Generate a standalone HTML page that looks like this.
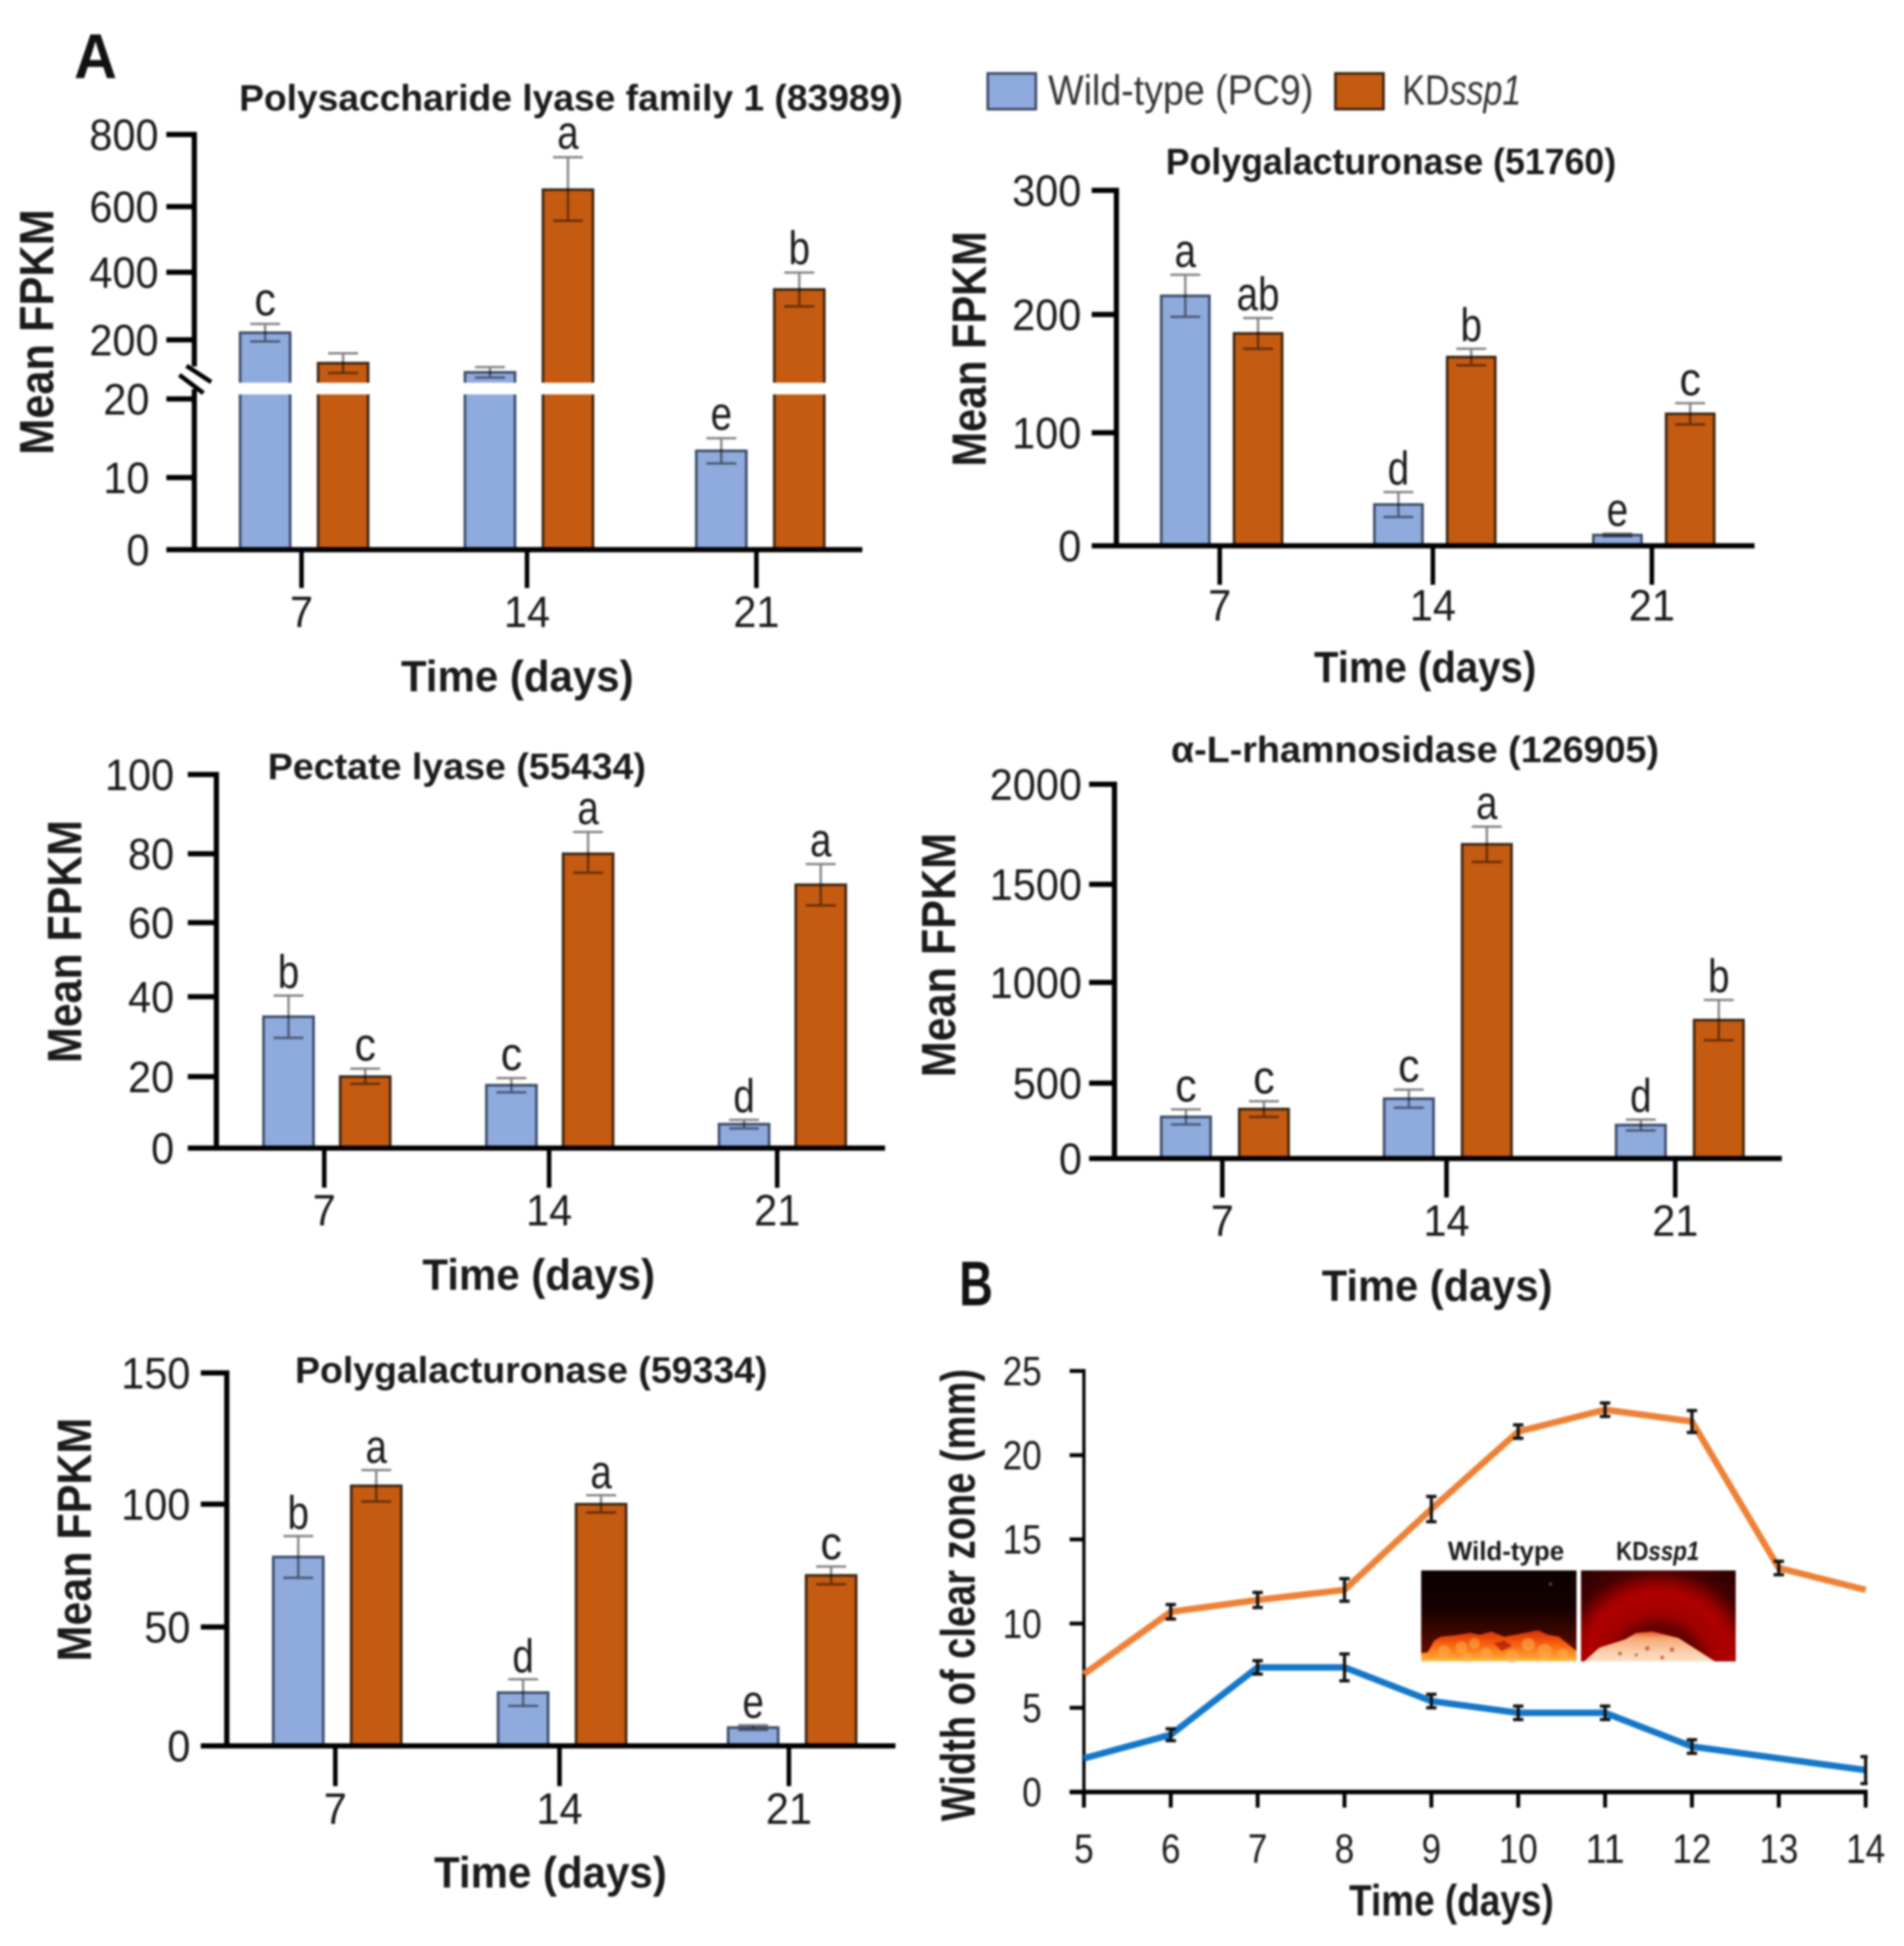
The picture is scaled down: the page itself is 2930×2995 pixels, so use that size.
<!DOCTYPE html>
<html lang="en">
<head>
<meta charset="utf-8">
<title>Mean FPKM of pectinolytic genes and clear zone width</title>
<style>
html,body{margin:0;padding:0;background:#fff;width:2930px;height:2995px;overflow:hidden}
svg{display:block;filter:blur(1.6px)}
text{font-family:"Liberation Sans","DejaVu Sans",sans-serif;fill:#1a1a1a}
.title{font-size:57px;font-weight:700}
.axis-title{font-size:68px;font-weight:700}
.y-title{font-size:74px;font-weight:700}
.panel-letter{font-size:97px;font-weight:700;fill:#111}
.legend{font-size:65px;fill:#333}
.tick{font-size:68px}
.letter{font-size:72px}
.inset{font-size:41px;font-weight:700}
</style>
</head>
<body>
<svg id="fig" xmlns="http://www.w3.org/2000/svg" width="2930" height="2995" viewBox="0 0 2930 2995">
  <defs>
    <linearGradient id="wtBg" x1="0" y1="0" x2="0" y2="1">
      <stop offset="0" stop-color="#0c0000"/><stop offset=".4" stop-color="#140000"/><stop offset=".65" stop-color="#380600"/><stop offset="1" stop-color="#7a1000"/>
    </linearGradient>
    <linearGradient id="wtColony" x1="0" y1="0" x2="0" y2="1">
      <stop offset="0" stop-color="#d0300a"/><stop offset=".35" stop-color="#f4540c"/><stop offset=".8" stop-color="#ff9426"/><stop offset="1" stop-color="#ffc050"/>
    </linearGradient>
    <radialGradient id="kdBg" gradientUnits="userSpaceOnUse" cx="119" cy="150" r="190">
      <stop offset="0" stop-color="#800000"/><stop offset=".33" stop-color="#640000"/><stop offset=".44" stop-color="#a00000"/><stop offset=".6" stop-color="#b00000"/><stop offset=".67" stop-color="#980000"/><stop offset=".8" stop-color="#440000"/><stop offset="1" stop-color="#2a0000"/>
    </radialGradient>
    <linearGradient id="kdColony" x1="0" y1="0" x2="0" y2="1">
      <stop offset="0" stop-color="#e8501e"/><stop offset=".22" stop-color="#f6a878"/><stop offset=".7" stop-color="#fbd0ac"/><stop offset="1" stop-color="#fde0c4"/>
    </linearGradient>
    <clipPath id="lineClip"><rect x="1660" y="2100" width="1214" height="680"/></clipPath>
  </defs>

  <text class="panel-letter" x="114" y="120" textLength="66" lengthAdjust="spacingAndGlyphs">A</text>
  <text class="panel-letter" x="1476" y="2009" textLength="52" lengthAdjust="spacingAndGlyphs">B</text>

  <g>
    <rect x="1520" y="113" width="74" height="55" fill="#8faadc" stroke="#3b4a66" stroke-width="4"/>
    <text class="legend" x="1613" y="161" textLength="408" lengthAdjust="spacingAndGlyphs">Wild-type (PC9)</text>
    <rect x="2055" y="113" width="74" height="55" fill="#c55a11" stroke="#3a2410" stroke-width="4"/>
    <text class="legend" x="2158" y="161" textLength="183" lengthAdjust="spacingAndGlyphs">KD<tspan font-style="italic">ssp1</tspan></text>
  </g>

  <text class="title" x="368" y="170" textLength="1021" lengthAdjust="spacingAndGlyphs">Polysaccharide lyase family 1 (83989)</text>
  <text class="title" x="1794" y="268" textLength="693" lengthAdjust="spacingAndGlyphs">Polygalacturonase (51760)</text>
  <text class="title" x="412" y="1199" textLength="582" lengthAdjust="spacingAndGlyphs">Pectate lyase (55434)</text>
  <text class="title" x="1802" y="1173" textLength="751" lengthAdjust="spacingAndGlyphs">α-L-rhamnosidase (126905)</text>
  <text class="title" x="454" y="2128" textLength="727" lengthAdjust="spacingAndGlyphs">Polygalacturonase (59334)</text>

  <text class="y-title" transform="translate(82,700) rotate(-90)" textLength="378" lengthAdjust="spacingAndGlyphs">Mean FPKM</text>
  <text class="y-title" transform="translate(1517,718) rotate(-90)" textLength="362" lengthAdjust="spacingAndGlyphs">Mean FPKM</text>
  <text class="y-title" transform="translate(125,1636) rotate(-90)" textLength="374" lengthAdjust="spacingAndGlyphs">Mean FPKM</text>
  <text class="y-title" transform="translate(1470,1658) rotate(-90)" textLength="376" lengthAdjust="spacingAndGlyphs">Mean FPKM</text>
  <text class="y-title" transform="translate(140,2557) rotate(-90)" textLength="375" lengthAdjust="spacingAndGlyphs">Mean FPKM</text>
  <text class="y-title" transform="translate(1500,2803) rotate(-90)" textLength="696" lengthAdjust="spacingAndGlyphs">Width of clear zone (mm)</text>

  <text class="axis-title" x="617" y="1064" textLength="358" lengthAdjust="spacingAndGlyphs">Time (days)</text>
  <text class="axis-title" x="2022" y="1050" textLength="342" lengthAdjust="spacingAndGlyphs">Time (days)</text>
  <text class="axis-title" x="650" y="1985" textLength="358" lengthAdjust="spacingAndGlyphs">Time (days)</text>
  <text class="axis-title" x="2034" y="2002" textLength="355" lengthAdjust="spacingAndGlyphs">Time (days)</text>
  <text class="axis-title" x="668" y="2905" textLength="358" lengthAdjust="spacingAndGlyphs">Time (days)</text>
  <text class="axis-title" x="2076" y="2948" textLength="315" lengthAdjust="spacingAndGlyphs">Time (days)</text>

  <g id="plots"></g>

  <g>
    <text class="inset" x="2228" y="2401" textLength="179" lengthAdjust="spacingAndGlyphs">Wild-type</text>
    <text class="inset" x="2487" y="2401" textLength="128" lengthAdjust="spacingAndGlyphs">KD<tspan font-style="italic">ssp1</tspan></text>
    <g transform="translate(2187,2417)">
      <rect width="239" height="140" fill="url(#wtBg)"/>
      <polygon points="0,127 10,126 20,108 30,102 50,100 76,96 90,99 108,94 128,102 150,98 180,92 195,99 212,102 228,115 239,124 239,140 0,140" fill="url(#wtColony)"/>
      <g fill="#ffb050" opacity=".55">
        <circle cx="35" cy="124" r="9"/><circle cx="62" cy="118" r="9"/><circle cx="82" cy="112" r="8"/><circle cx="100" cy="128" r="9"/><circle cx="165" cy="114" r="10"/><circle cx="190" cy="124" r="11"/><circle cx="140" cy="132" r="10"/><circle cx="218" cy="128" r="8"/><circle cx="70" cy="134" r="7"/>
      </g>
      <polygon points="112,112 128,108 140,116 124,124" fill="#b32000" opacity=".8"/>
      <circle cx="199" cy="21" r="2.5" fill="#555"/>
    </g>
    <g transform="translate(2433,2417)">
      <rect width="238" height="140" fill="url(#kdBg)"/>
      <polygon points="5,140 28,119 68,106 85,96 110,94 150,104 178,122 206,140" fill="url(#kdColony)"/>
      <g fill="#b4502c" opacity=".75">
        <circle cx="102" cy="120" r="3.5"/><circle cx="140" cy="122" r="3.5"/><circle cx="125" cy="134" r="3"/><circle cx="60" cy="128" r="3"/><circle cx="85" cy="130" r="2.5"/>
      </g>
    </g>
  </g>
</svg>

<script>
const NS = 'http://www.w3.org/2000/svg';

// ----- shared category values -----
const days = [7, 14, 21];
const lineDays = [5, 6, 7, 8, 9, 10, 11, 12, 13, 14];

// ----- Polysaccharide lyase family 1 (83989) -----
const lyase1Ticks = [0, 10, 20, 200, 400, 600, 800];
const lyase1Wild = [221, 101, 13.4];
const lyase1Kd = [129, 647, 349];
const lyase1WildErr = [26, 16, 1.6];
const lyase1KdErr = [30, 90, 50];
const lyase1WildLetters = ['c', '', 'e'];
const lyase1KdLetters = ['', 'a', 'b'];

// ----- Polygalacturonase (51760) -----
const pg51760Ticks = [0, 100, 200, 300];
const pg51760Wild = [215, 36.5, 9.5];
const pg51760Kd = [184, 164, 116];
const pg51760WildErr = [17, 11, 1.2];
const pg51760KdErr = [13, 7, 9];
const pg51760WildLetters = ['a', 'd', 'e'];
const pg51760KdLetters = ['ab', 'b', 'c'];

// ----- Pectate lyase (55434) -----
const pectateTicks = [0, 20, 40, 60, 80, 100];
const pectateWild = [35, 17.6, 6.7];
const pectateKd = [20, 80, 71];
const pectateWildErr = [5.3, 2, 1.2];
const pectateKdErr = [2, 5.5, 6];
const pectateWildLetters = ['b', 'c', 'd'];
const pectateKdLetters = ['c', 'a', 'a'];

// ----- alpha-L-rhamnosidase (126905) -----
const rhamTicks = [0, 500, 1000, 1500, 2000];
const rhamWild = [276, 397, 222];
const rhamKd = [328, 1700, 813];
const rhamWildErr = [50, 60, 36];
const rhamKdErr = [52, 88, 100];
const rhamWildLetters = ['c', 'c', 'd'];
const rhamKdLetters = ['c', 'a', 'b'];

// ----- Polygalacturonase (59334) -----
const pg59334Ticks = [0, 50, 100, 150];
const pg59334Wild = [78.5, 22.4, 7.7];
const pg59334Kd = [107, 100, 71];
const pg59334WildErr = [8.5, 5.6, 1];
const pg59334KdErr = [6, 3.4, 3.6];
const pg59334WildLetters = ['b', 'd', 'e'];
const pg59334KdLetters = ['a', 'a', 'c'];

// ----- Width of clear zone -----
const zoneTicks = [0, 5, 10, 15, 20, 25];
const zoneWild = [2, 3.4, 7.4, 7.4, 5.4, 4.7, 4.7, 2.7, 2, 1.3];
const zoneKd = [7, 10.7, 11.4, 12, 16.8, 21.4, 22.7, 22, 13.3, 12];
const zoneWildErr = [0, 0.35, 0.4, 0.8, 0.4, 0.4, 0.4, 0.4, 0, 0.8];
const zoneKdErr = [0, 0.43, 0.45, 0.67, 0.75, 0.4, 0.4, 0.65, 0.4, 0];

const WILD_FILL = '#8faadc', WILD_EDGE = '#3b4a66';
const KD_FILL = '#c55a11', KD_EDGE = '#3a2410';

function svgEl(tag, attrs) {
  const el = document.createElementNS(NS, tag);
  for (const k in attrs) el.setAttribute(k, attrs[k]);
  return el;
}
// piecewise-linear axis function
function scale(domain, range) {
  return function (v) {
    let i = 0;
    while (i < domain.length - 2 && v > domain[i + 1]) i++;
    const t = (v - domain[i]) / (domain[i + 1] - domain[i]);
    return range[i] + t * (range[i + 1] - range[i]);
  };
}

const plots = document.getElementById('plots');

function drawBarPanel(p) {
  const g = svgEl('g', {});
  
  
  plots.appendChild(g);
  const y = scale(p.ticks, p.tickPixels);
  const groupX = scale(days, p.groupPixels);
  const tickX = scale(days, p.xTickPixels);
  const y0 = y(0);

  [['wild', p.wild, p.wildErr, p.wildLetters, -1, WILD_FILL, WILD_EDGE],
   ['kd', p.kd, p.kdErr, p.kdLetters, 1, KD_FILL, KD_EDGE]].forEach(function (s) {
    days.forEach(function (d, i) {
      const v = s[1][i], e = s[2][i];
      const cx = groupX(d) + s[4] * p.offset;
      const top = y(v);
      const bar = svgEl('rect', { x: cx - p.barW / 2, y: top, width: p.barW, height: y0 - top, fill: s[5], stroke: s[6], 'stroke-width': 4 });
      
      
      g.appendChild(bar);
      if (p.breakBand && top < p.breakBand[0]) {
        const gap = svgEl('rect', { x: cx - p.barW / 2 - 4, y: p.breakBand[0], width: p.barW + 8, height: p.breakBand[1] - p.breakBand[0], fill: '#fff' });
        
        
        g.appendChild(gap);
      }
      const hi = y(v + e), lo = y(v - e);
      const err = svgEl('path', {
        d: 'M' + cx + ' ' + hi + 'V' + lo + 'M' + (cx - 23) + ' ' + hi + 'H' + (cx + 23) + 'M' + (cx - 23) + ' ' + lo + 'H' + (cx + 23),
        fill: 'none', stroke: '#000', 'stroke-opacity': 0.5, 'stroke-width': 3.5
      });
      
      
      g.appendChild(err);
      if (s[3][i]) {
        const lab = svgEl('text', { x: cx, y: hi - p.letterGap, 'text-anchor': 'middle', class: 'letter', textLength: 33 * s[3][i].length, lengthAdjust: 'spacingAndGlyphs' });
        lab.textContent = s[3][i];
        
        
        g.appendChild(lab);
      }
    });
  });

  // y axis (one or two segments when broken)
  const yTop = y(p.ticks[p.ticks.length - 1]);
  const segments = p.axisBreak ? [[yTop, p.axisBreak[0]], [p.axisBreak[1], y0]] : [[yTop, y0]];
  segments.forEach(function (seg) {
    const axis = svgEl('line', { x1: p.axisX, x2: p.axisX, y1: seg[0] - 4, y2: seg[1], stroke: '#000', 'stroke-width': 8 });
    
    
    g.appendChild(axis);
  });
  if (p.axisBreak) {
    const marks = svgEl('path', { d: 'M287 563L325 588M276 577L313 605', fill: 'none', stroke: '#000', 'stroke-width': 7 });
    
    
    g.appendChild(marks);
  }
  p.ticks.forEach(function (t) {
    const py = y(t);
    const mark = svgEl('line', { x1: p.tickLeft, x2: p.axisX, y1: py, y2: py, stroke: '#000', 'stroke-width': 8 });
    
    
    g.appendChild(mark);
    const lowLabel = p.lowLabelMax !== undefined && t <= p.lowLabelMax;
    const lab = svgEl('text', { x: lowLabel ? p.labelRightLow : p.labelRight, y: py + 24, 'text-anchor': 'end', class: 'tick', textLength: 35.5 * String(t).length, lengthAdjust: 'spacingAndGlyphs' });
    lab.textContent = t;
    
    
    g.appendChild(lab);
  });

  // x axis
  const xAxis = svgEl('line', { x1: p.tickLeft, x2: p.axisRight, y1: y0, y2: y0, stroke: '#000', 'stroke-width': 8 });
  
  
  g.appendChild(xAxis);
  days.forEach(function (d) {
    const px = tickX(d);
    const mark = svgEl('line', { x1: px, x2: px, y1: y0, y2: p.xTickBottom, stroke: '#000', 'stroke-width': 7 });
    
    
    g.appendChild(mark);
    const lab = svgEl('text', { x: px, y: p.xLabelY, 'text-anchor': 'middle', class: 'tick', textLength: 35.5 * String(d).length, lengthAdjust: 'spacingAndGlyphs' });
    lab.textContent = d;
    
    
    g.appendChild(lab);
  });
}

drawBarPanel({ name: 'polysaccharide-lyase', ticks: lyase1Ticks, wild: lyase1Wild, kd: lyase1Kd, wildErr: lyase1WildErr, kdErr: lyase1KdErr, wildLetters: lyase1WildLetters, kdLetters: lyase1KdLetters,
  tickPixels: [846, 735, 614, 523, 419, 318, 207], groupPixels: [468, 814, 1170], xTickPixels: [464, 811, 1164],
  offset: 60, barW: 77, axisX: 299, axisRight: 1327, tickLeft: 256, xTickBottom: 905, xLabelY: 965, labelRight: 244, labelRightLow: 230, lowLabelMax: 20, letterGap: 13,
  breakBand: [589, 607], axisBreak: [564, 603] });

drawBarPanel({ name: 'polygalacturonase-51760', ticks: pg51760Ticks, wild: pg51760Wild, kd: pg51760Kd, wildErr: pg51760WildErr, kdErr: pg51760KdErr, wildLetters: pg51760WildLetters, kdLetters: pg51760KdLetters,
  tickPixels: [840, 666, 484, 293], groupPixels: [1880, 2208, 2545], xTickPixels: [1877, 2205, 2542],
  offset: 56, barW: 74, axisX: 1718, axisRight: 2700, tickLeft: 1680, xTickBottom: 900, xLabelY: 955, labelRight: 1664, letterGap: 12 });

drawBarPanel({ name: 'pectate-lyase', ticks: pectateTicks, wild: pectateWild, kd: pectateKd, wildErr: pectateWildErr, kdErr: pectateKdErr, wildLetters: pectateWildLetters, kdLetters: pectateKdLetters,
  tickPixels: [1767, 1657, 1534, 1420, 1314, 1192], groupPixels: [503, 846, 1204], xTickPixels: [499, 845, 1196],
  offset: 59, barW: 77, axisX: 333, axisRight: 1362, tickLeft: 289, xTickBottom: 1828, xLabelY: 1886, labelRight: 268, letterGap: 12 });

drawBarPanel({ name: 'rhamnosidase', ticks: rhamTicks, wild: rhamWild, kd: rhamKd, wildErr: rhamWildErr, kdErr: rhamKdErr, wildLetters: rhamWildLetters, kdLetters: rhamKdLetters,
  tickPixels: [1783, 1667, 1512, 1361, 1207], groupPixels: [1885, 2228, 2585], xTickPixels: [1881, 2226, 2578],
  offset: 60, barW: 76, axisX: 1715, axisRight: 2742, tickLeft: 1676, xTickBottom: 1843, xLabelY: 1902, labelRight: 1665, letterGap: 12 });

drawBarPanel({ name: 'polygalacturonase-59334', ticks: pg59334Ticks, wild: pg59334Wild, kd: pg59334Kd, wildErr: pg59334WildErr, kdErr: pg59334KdErr, wildLetters: pg59334WildLetters, kdLetters: pg59334KdLetters,
  tickPixels: [2687, 2504, 2315, 2113], groupPixels: [519, 865, 1219], xTickPixels: [516, 861, 1214],
  offset: 60, barW: 77, axisX: 349, axisRight: 1378, tickLeft: 309, xTickBottom: 2749, xLabelY: 2807, labelRight: 293, letterGap: 11 });

// ----- line chart (panel B) -----
(function drawLinePanel() {
  const g = svgEl('g', {});
  
  
  plots.appendChild(g);
  const x = scale([5, 14], [1668, 2871]);
  const y = scale([0, 25], [2758, 2110]);

  const yAxis = svgEl('line', { x1: 1668, x2: 1668, y1: y(25) - 3, y2: y(0), stroke: '#000', 'stroke-width': 5 });
  
  
  g.appendChild(yAxis);
  const xAxis = svgEl('line', { x1: 1646, x2: 2874, y1: y(0), y2: y(0), stroke: '#000', 'stroke-width': 7 });
  
  
  g.appendChild(xAxis);

  zoneTicks.forEach(function (t) {
    const mark = svgEl('line', { x1: 1646, x2: 1668, y1: y(t), y2: y(t), stroke: '#000', 'stroke-width': 6 });
    
    
    g.appendChild(mark);
    const lab = svgEl('text', { x: 1603, y: y(t) + 22, 'text-anchor': 'end', 'font-size': 63, textLength: 30 * String(t).length, lengthAdjust: 'spacingAndGlyphs' });
    lab.textContent = t;
    
    
    g.appendChild(lab);
  });
  lineDays.forEach(function (d) {
    const mark = svgEl('line', { x1: x(d), x2: x(d), y1: y(0), y2: 2782, stroke: '#000', 'stroke-width': 6 });
    
    
    g.appendChild(mark);
    const lab = svgEl('text', { x: x(d), y: 2867, 'text-anchor': 'middle', 'font-size': 63, textLength: 30 * String(d).length, lengthAdjust: 'spacingAndGlyphs' });
    lab.textContent = d;
    
    
    g.appendChild(lab);
  });

  [['kd', zoneKd, zoneKdErr, '#ed8136'], ['wild', zoneWild, zoneWildErr, '#1577c9']].forEach(function (s) {
    let dPath = '';
    lineDays.forEach(function (d, i) { dPath += (i ? 'L' : 'M') + x(d) + ' ' + y(s[1][i]); });
    const path = svgEl('path', { d: dPath, fill: 'none', stroke: s[3], 'stroke-width': 10, 'stroke-linejoin': 'round', 'clip-path': 'url(#lineClip)' });
    
    
    g.appendChild(path);
    lineDays.forEach(function (d, i) {
      if (!s[2][i]) return;
      const px = x(d), hi = y(s[1][i] + s[2][i]), lo = y(s[1][i] - s[2][i]);
      const err = svgEl('path', {
        d: 'M' + px + ' ' + hi + 'V' + lo + 'M' + (px - 8) + ' ' + hi + 'H' + (px + 8) + 'M' + (px - 8) + ' ' + lo + 'H' + (px + 8),
        fill: 'none', stroke: '#111', 'stroke-width': 5, 'clip-path': 'url(#lineClip)'
      });
      
      
      g.appendChild(err);
    });
  });
})();
</script>
</body>
</html>
